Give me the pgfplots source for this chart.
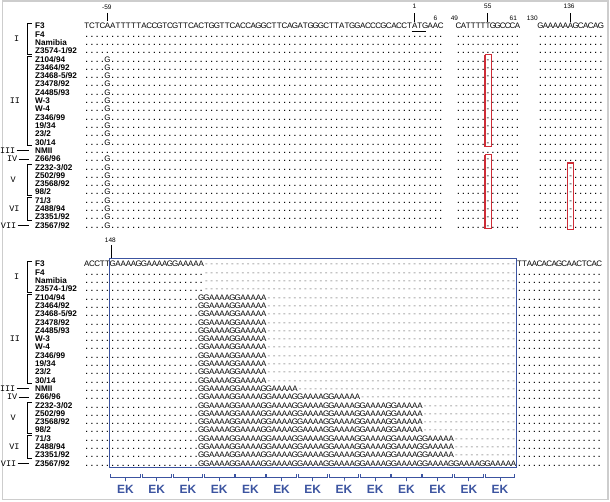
\documentclass[border=0pt]{standalone}
\usepackage{pgfplots}
\pgfplotsset{compat=1.18}
\usepackage{fontspec}
\setmainfont{Liberation Sans}
\newfontfamily\monofont{Liberation Mono}
\definecolor{ekblue}{RGB}{60,84,160}
\definecolor{boxred}{RGB}{205,45,55}
\definecolor{dashgray}{RGB}{120,120,120}
\definecolor{framegray}{RGB}{205,205,205}
\makeatletter
\newdimen\cw \cw=5.22pt
\def\seqs#1{\seq@loop#1\@nil}
\def\seq@loop#1{\ifx\@nil#1\else\hbox to\cw{\hss#1\hss}\expandafter\seq@loop\fi}
\newcount\rep@n
\def\reps#1#2{\rep@n=#1\relax\loop\ifnum\rep@n>0 \seqs{#2}\advance\rep@n by -1 \repeat}
\makeatother
\def\D#1{{\bfseries\reps{#1}{.}}}
\def\Hd#1{{\color{dashgray}\reps{#1}{-}}}
\def\rows{\baselineskip=8.33pt\lineskiplimit=-100pt\lineskip=0pt}
\def\seqfont{\fontsize{8}{8.33}\selectfont}
\def\names{\vtop{\fontsize{8.2}{8.33}\selectfont\bfseries\rows
\hbox{F3}\hbox{F4}\hbox{Namibia}\hbox{Z3574-1/92}\hbox{Z104/94}\hbox{Z3464/92}\hbox{Z3468-5/92}\hbox{Z3478/92}\hbox{Z4485/93}\hbox{W-3}\hbox{W-4}\hbox{Z346/99}\hbox{19/34}\hbox{23/2}\hbox{30/14}\hbox{NMII}\hbox{Z66/96}\hbox{Z232-3/02}\hbox{Z502/99}\hbox{Z3568/92}\hbox{98/2}\hbox{71/3}\hbox{Z488/94}\hbox{Z3351/92}\hbox{Z3567/92}}}
\def\Gr{\hbox{\D{4}\seqs{G}\D{64}}}
\def\Dr{\hbox{\D{69}}}
\def\Bx{\hbox{\D{6}\seqs{-}\D{6}}}
\def\Dt{\hbox{\D{13}}}
\def\Ds{\hbox{\D{17}}}
\begin{document}
\begin{tikzpicture}
\begin{axis}[scale only axis, width=610pt, height=503pt, xmin=0, xmax=610, ymin=0, ymax=503,
  y dir=reverse, hide axis, clip=false]
\addplot[draw=none] coordinates {(0,0)(610,503)};
\addplot[framegray, line width=1.6pt] coordinates {(0.8,0.8)(607.8,0.8)(607.8,500.8)(0.8,500.8)(0.8,0.8)};
% ---------- names ----------
\node[anchor=base west, inner sep=0] at (axis cs:33.3,28.9) {\names};
\node[anchor=base west, inner sep=0] at (axis cs:33.3,267.6) {\names};
% ---------- group labels ----------
\node[inner sep=0, font=\monofont\fontsize{8.5}{8.5}\selectfont] at (axis cs:15,38.5) {I};
\node[inner sep=0, font=\monofont\fontsize{8.5}{8.5}\selectfont] at (axis cs:13.3,101) {II};
\node[inner sep=0, anchor=east, font=\monofont\fontsize{8.5}{8.5}\selectfont] at (axis cs:13.8,151) {III};
\node[inner sep=0, anchor=east, font=\monofont\fontsize{8.5}{8.5}\selectfont] at (axis cs:15.8,159.3) {IV};
\node[inner sep=0, font=\monofont\fontsize{8.5}{8.5}\selectfont] at (axis cs:11.5,180.1) {V};
\node[inner sep=0, font=\monofont\fontsize{8.5}{8.5}\selectfont] at (axis cs:12.7,209.3) {VI};
\node[inner sep=0, anchor=east, font=\monofont\fontsize{8.5}{8.5}\selectfont] at (axis cs:14.8,226) {VII};
\node[inner sep=0, font=\monofont\fontsize{8.5}{8.5}\selectfont] at (axis cs:15,277.2) {I};
\node[inner sep=0, font=\monofont\fontsize{8.5}{8.5}\selectfont] at (axis cs:13.3,339.7) {II};
\node[inner sep=0, anchor=east, font=\monofont\fontsize{8.5}{8.5}\selectfont] at (axis cs:13.8,389.7) {III};
\node[inner sep=0, anchor=east, font=\monofont\fontsize{8.5}{8.5}\selectfont] at (axis cs:15.8,398) {IV};
\node[inner sep=0, font=\monofont\fontsize{8.5}{8.5}\selectfont] at (axis cs:11.5,418.8) {V};
\node[inner sep=0, font=\monofont\fontsize{8.5}{8.5}\selectfont] at (axis cs:12.7,448) {VI};
\node[inner sep=0, anchor=east, font=\monofont\fontsize{8.5}{8.5}\selectfont] at (axis cs:14.8,464.7) {VII};
% brackets top
\addplot[black, line width=0.7pt] coordinates {(30,23)(25.5,23)(25.5,54)(30,54)};
\addplot[black, line width=0.7pt] coordinates {(30,56.3)(25.5,56.3)(25.5,145.6)(30,145.6)};
\addplot[black, line width=0.7pt] coordinates {(15,151)(27,151)};
\addplot[black, line width=0.7pt] coordinates {(17,159.3)(27,159.3)};
\addplot[black, line width=0.7pt] coordinates {(30,164.6)(25.5,164.6)(25.5,195.6)(30,195.6)};
\addplot[black, line width=0.7pt] coordinates {(30,197.9)(25.5,197.9)(25.5,220.6)(30,220.6)};
\addplot[black, line width=0.7pt] coordinates {(16,226)(27,226)};
% brackets bottom
\addplot[black, line width=0.7pt] coordinates {(30,261.7)(25.5,261.7)(25.5,292.7)(30,292.7)};
\addplot[black, line width=0.7pt] coordinates {(30,295)(25.5,295)(25.5,384.3)(30,384.3)};
\addplot[black, line width=0.7pt] coordinates {(15,389.7)(27,389.7)};
\addplot[black, line width=0.7pt] coordinates {(17,398)(27,398)};
\addplot[black, line width=0.7pt] coordinates {(30,403.3)(25.5,403.3)(25.5,434.3)(30,434.3)};
\addplot[black, line width=0.7pt] coordinates {(30,436.6)(25.5,436.6)(25.5,459.3)(30,459.3)};
\addplot[black, line width=0.7pt] coordinates {(16,464.7)(27,464.7)};
% ---------- top panel sequences ----------
\node[anchor=base west, inner sep=0] at (axis cs:82.5,28.9) {\seqfont\cw=5.22pt\vtop{\rows
\hbox{\seqs{TCTCAATTTTTACCGTCGTTCACTGGTTCACCAGGCTTCAGATGGGCTTATGGACCCGCACCTATGAAC}}
\Dr\Dr\Dr
\Gr\Gr\Gr\Gr\Gr\Gr\Gr\Gr\Gr\Gr\Gr
\Dr
\Gr\Gr\Gr\Gr\Gr\Gr\Gr\Gr\Gr}};
\node[anchor=base west, inner sep=0] at (axis cs:455.5,28.9) {\seqfont\cw=4.92pt\vtop{\rows
\hbox{\seqs{CATTTTTGGCCCA}}
\Dt\Dt\Dt
\Bx\Bx\Bx\Bx\Bx\Bx\Bx\Bx\Bx\Bx\Bx
\Dt
\Bx\Bx\Bx\Bx\Bx\Bx\Bx\Bx\Bx}};
\node[anchor=base west, inner sep=0] at (axis cs:537.5,28.9) {\seqfont\cw=5.05pt\vtop{\rows
\hbox{\seqs{GAAAAAAGCACAG}}
\Dt\Dt\Dt\Dt\Dt\Dt\Dt\Dt
\Dt\Dt\Dt\Dt\Dt\Dt\Dt\Dt
\Bx\Bx\Bx\Bx\Bx\Bx\Bx\Bx}};
% underline ATG
\addplot[black, line width=0.6pt] coordinates {(411,31)(425.5,31)};
% position labels and ticks
\node[inner sep=0, font=\fontsize{6.5}{7}\selectfont] at (axis cs:105.5,7) {-59};
\node[inner sep=0, font=\fontsize{6.5}{7}\selectfont] at (axis cs:414,6.5) {1};
\node[inner sep=0, font=\fontsize{6.5}{7}\selectfont] at (axis cs:435,18.5) {6};
\node[inner sep=0, font=\fontsize{6.5}{7}\selectfont] at (axis cs:454,18.5) {49};
\node[inner sep=0, font=\fontsize{6.5}{7}\selectfont] at (axis cs:487.5,6.5) {55};
\node[inner sep=0, font=\fontsize{6.5}{7}\selectfont] at (axis cs:513,18.5) {61};
\node[inner sep=0, font=\fontsize{6.5}{7}\selectfont] at (axis cs:532,18.5) {130};
\node[inner sep=0, font=\fontsize{6.5}{7}\selectfont] at (axis cs:569,6.5) {136};
\node[inner sep=0, font=\fontsize{6.5}{7}\selectfont] at (axis cs:109,241) {148};
\addplot[black, line width=0.8pt] coordinates {(106,13)(106,21.5)};
\addplot[black, line width=0.8pt] coordinates {(414,13.5)(414,22)};
\addplot[black, line width=0.8pt] coordinates {(487.5,13.5)(487.5,22)};
\addplot[black, line width=0.8pt] coordinates {(570.3,13.5)(570.3,22)};
\addplot[black, line width=0.8pt] coordinates {(110.5,246)(110.5,259)};
% red boxes
\addplot[boxred, line width=1.1pt] coordinates {(484.6,55)(491.2,55)(491.2,146.5)(484.6,146.5)(484.6,55)};
\addplot[boxred, line width=1.1pt] coordinates {(484.6,155)(491.2,155)(491.2,229.5)(484.6,229.5)(484.6,155)};
\addplot[boxred, line width=1.1pt] coordinates {(567,163.5)(573.8,163.5)(573.8,230.5)(567,230.5)(567,163.5)};
% ---------- bottom panel sequences ----------
\node[anchor=base west, inner sep=0] at (axis cs:82.5,267.6) {\seqfont\cw=5.22pt\vtop{\rows
\hbox{\seqs{ACCTTGAAAAGGAAAAGGAAAAA}\Hd{60}}
\hbox{\D{23}\Hd{60}}\hbox{\D{23}\Hd{60}}\hbox{\D{23}\Hd{60}}
\hbox{\D{22}\seqs{GGAAAAGGAAAAA}\Hd{48}}\hbox{\D{22}\seqs{GGAAAAGGAAAAA}\Hd{48}}\hbox{\D{22}\seqs{GGAAAAGGAAAAA}\Hd{48}}\hbox{\D{22}\seqs{GGAAAAGGAAAAA}\Hd{48}}
\hbox{\D{22}\seqs{GGAAAAGGAAAAA}\Hd{48}}\hbox{\D{22}\seqs{GGAAAAGGAAAAA}\Hd{48}}\hbox{\D{22}\seqs{GGAAAAGGAAAAA}\Hd{48}}\hbox{\D{22}\seqs{GGAAAAGGAAAAA}\Hd{48}}
\hbox{\D{22}\seqs{GGAAAAGGAAAAA}\Hd{48}}\hbox{\D{22}\seqs{GGAAAAGGAAAAA}\Hd{48}}\hbox{\D{22}\seqs{GGAAAAGGAAAAA}\Hd{48}}
\hbox{\D{22}\seqs{GGAAAAGGAAAAGGAAAAA}\Hd{42}}
\hbox{\D{22}\seqs{G}\reps{4}{GAAAAG}\seqs{GAAAAA}\Hd{30}}
\hbox{\D{22}\seqs{G}\reps{6}{GAAAAG}\seqs{GAAAAA}\Hd{18}}\hbox{\D{22}\seqs{G}\reps{6}{GAAAAG}\seqs{GAAAAA}\Hd{18}}\hbox{\D{22}\seqs{G}\reps{6}{GAAAAG}\seqs{GAAAAA}\Hd{18}}\hbox{\D{22}\seqs{G}\reps{6}{GAAAAG}\seqs{GAAAAA}\Hd{18}}
\hbox{\D{22}\seqs{G}\reps{7}{GAAAAG}\seqs{GAAAAA}\Hd{12}}\hbox{\D{22}\seqs{G}\reps{7}{GAAAAG}\seqs{GAAAAA}\Hd{12}}\hbox{\D{22}\seqs{G}\reps{7}{GAAAAG}\seqs{GAAAAA}\Hd{12}}
\hbox{\D{22}\seqs{G}\reps{9}{GAAAAG}\seqs{GAAAAA}}}};
\node[anchor=base west, inner sep=0] at (axis cs:516.5,267.6) {\seqfont\cw=5.0pt\vtop{\rows
\hbox{\seqs{TTAACACAGCAACTCAC}}
\Ds\Ds\Ds\Ds\Ds\Ds\Ds\Ds
\Ds\Ds\Ds\Ds\Ds\Ds\Ds\Ds
\Ds\Ds\Ds\Ds\Ds\Ds\Ds\Ds}};
% blue box
\addplot[ekblue, line width=1pt] coordinates {(108.5,259)(516,259)(516,469)(108.5,469)(108.5,259)};
% EK brackets
\addplot[ekblue, line width=0.8pt] coordinates {(109.3,475.5)(109.3,479)(124.15,479)(124.15,482.5)(124.15,479)(139.0,479)(139.0,475.5)};
\addplot[ekblue, line width=0.8pt] coordinates {(140.6,475.5)(140.6,479)(155.45,479)(155.45,482.5)(155.45,479)(170.3,479)(170.3,475.5)};
\addplot[ekblue, line width=0.8pt] coordinates {(171.9,475.5)(171.9,479)(186.75,479)(186.75,482.5)(186.75,479)(201.6,479)(201.6,475.5)};
\addplot[ekblue, line width=0.8pt] coordinates {(203.2,475.5)(203.2,479)(218.05,479)(218.05,482.5)(218.05,479)(232.9,479)(232.9,475.5)};
\addplot[ekblue, line width=0.8pt] coordinates {(234.5,475.5)(234.5,479)(249.35,479)(249.35,482.5)(249.35,479)(264.2,479)(264.2,475.5)};
\addplot[ekblue, line width=0.8pt] coordinates {(265.8,475.5)(265.8,479)(280.65,479)(280.65,482.5)(280.65,479)(295.5,479)(295.5,475.5)};
\addplot[ekblue, line width=0.8pt] coordinates {(297.1,475.5)(297.1,479)(311.95,479)(311.95,482.5)(311.95,479)(326.8,479)(326.8,475.5)};
\addplot[ekblue, line width=0.8pt] coordinates {(328.4,475.5)(328.4,479)(343.25,479)(343.25,482.5)(343.25,479)(358.1,479)(358.1,475.5)};
\addplot[ekblue, line width=0.8pt] coordinates {(359.7,475.5)(359.7,479)(374.55,479)(374.55,482.5)(374.55,479)(389.4,479)(389.4,475.5)};
\addplot[ekblue, line width=0.8pt] coordinates {(391.0,475.5)(391.0,479)(405.85,479)(405.85,482.5)(405.85,479)(420.7,479)(420.7,475.5)};
\addplot[ekblue, line width=0.8pt] coordinates {(422.3,475.5)(422.3,479)(437.15,479)(437.15,482.5)(437.15,479)(452.0,479)(452.0,475.5)};
\addplot[ekblue, line width=0.8pt] coordinates {(453.6,475.5)(453.6,479)(468.45,479)(468.45,482.5)(468.45,479)(483.3,479)(483.3,475.5)};
\addplot[ekblue, line width=0.8pt] coordinates {(484.9,475.5)(484.9,479)(499.75,479)(499.75,482.5)(499.75,479)(514.6,479)(514.6,475.5)};
\pgfplotsinvokeforeach{124.15,155.45,186.75,218.05,249.35,280.65,311.95,343.25,374.55,405.85,437.15,468.45,499.75}{
  \node[inner sep=0, text=ekblue, font=\bfseries\fontsize{12}{13}\selectfont] at (axis cs:#1,490.5) {EK};
}
\end{axis}
\end{tikzpicture}
\end{document}
